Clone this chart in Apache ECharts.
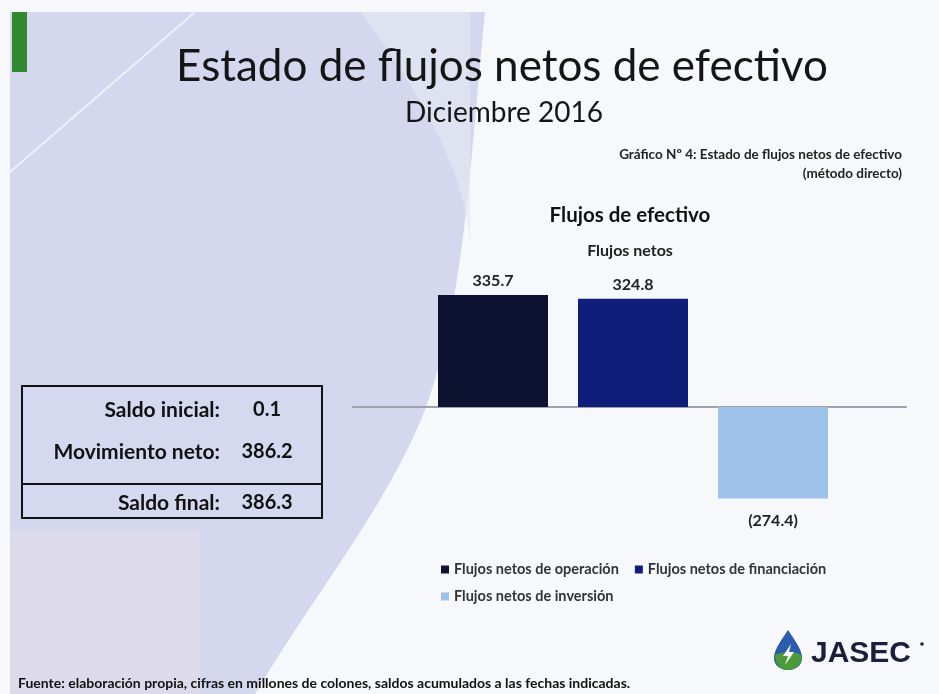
<!DOCTYPE html>
<html>
<head>
<meta charset="utf-8">
<script src="https://cdn.jsdelivr.net/npm/echarts@6/dist/echarts.min.js"></script>
<style>
  html, body { margin: 0; padding: 0; background: #f7f8fc; }
  #main { width: 939px; height: 694px; }
</style>
</head>
<body>
<div id="main"></div>
<script>
// datos del grafico (millones de colones)
var categorias = ['Flujos netos de operación', 'Flujos netos de financiación', 'Flujos netos de inversión'];
var valores = [335.7, 324.8, -274.4];
var colores = ['#0c1230', '#0f1e78', '#9fc2ea'];

// cuadro de saldos
var saldoEtiquetas = ['Saldo inicial:', 'Movimiento neto:', 'Saldo final:'];
var saldoValores = ['0.1', '386.2', '386.3'];

var FONT = 'Lato, "Open Sans", sans-serif';

var myChart = echarts.init(document.getElementById('main'));

function fmt(v) {
  return v < 0 ? '(' + Math.abs(v).toFixed(1) + ')' : v.toFixed(1);
}

// puntos de una curva bezier cubica (para las formas del fondo)
function curva(p0, p1, p2, p3) {
  var pts = [];
  for (var k = 0; k <= 20; k++) {
    var t = k / 20, u = 1 - t;
    pts.push([
      u * u * u * p0[0] + 3 * u * u * t * p1[0] + 3 * u * t * t * p2[0] + t * t * t * p3[0],
      u * u * u * p0[1] + 3 * u * u * t * p1[1] + 3 * u * t * t * p2[1] + t * t * t * p3[1]
    ]);
  }
  return pts;
}

var series = categorias.map(function (nombre, i) {
  var neg = valores[i] < 0;
  return {
    name: nombre,
    type: 'bar',
    barWidth: 110,
    barGap: '-100%',
    itemStyle: { color: colores[i] },
    label: {
      show: true,
      position: neg ? 'bottom' : 'top',
      distance: neg ? 14 : 6,
      fontFamily: FONT,
      fontSize: 16,
      fontWeight: 'bold',
      color: '#222',
      formatter: function (p) { return fmt(p.value[1]); }
    },
    data: [[i + 1, valores[i]]]
  };
});

// textos del cuadro
var cuadro = [];
var filasY = [410, 452, 503];
saldoEtiquetas.forEach(function (t, i) {
  cuadro.push({
    type: 'text', x: 220, y: filasY[i],
    style: { text: t, textAlign: 'right', textVerticalAlign: 'middle', font: 'bold 21px ' + FONT, fill: '#111' }
  });
  cuadro.push({
    type: 'text', x: 267, y: filasY[i],
    style: { text: saldoValores[i], textAlign: 'center', textVerticalAlign: 'middle', font: 'bold 20px ' + FONT, fill: '#111' }
  });
});

var fondo = [[10, 12], [485, 12]]
  .concat(curva([485, 12], [470, 160], [465, 300], [425, 410]))
  .concat(curva([425, 410], [385, 510], [310, 600], [255, 694]))
  .concat([[10, 694]]);
var fondo2 = [[10, 12], [360, 12]]
  .concat(curva([360, 12], [420, 90], [470, 180], [470, 250]))
  .concat([[470, 12]]);
var gota = curva([788, 630], [780, 642], [774, 650], [774, 658])
  .concat(curva([774, 658], [774, 666], [781, 670], [788, 670]))
  .concat(curva([788, 670], [795, 670], [802, 666], [802, 658]))
  .concat(curva([802, 658], [802, 650], [796, 642], [788, 630]));
var gotaVerde = curva([775, 655], [782, 652], [795, 650], [802, 656])
  .concat(curva([802, 656], [802, 665], [795, 670], [788, 670]))
  .concat(curva([788, 670], [781, 670], [775, 665], [775, 655]));

var legendText = { fontFamily: FONT, fontSize: 14.5, fontWeight: 'bold', color: '#333' };

myChart.setOption({
  animation: false,
  grid: { left: 353, width: 553, top: 273.6, height: 233.5 },
  xAxis: {
    type: 'value', min: 0, max: 3.95,
    axisLine: { show: true, onZero: true, lineStyle: { color: '#a0a0ae', width: 2 } },
    axisTick: { show: false }, axisLabel: { show: false }, splitLine: { show: false }
  },
  yAxis: {
    type: 'value', min: -300, max: 400, show: false, splitLine: { show: false }
  },
  legend: [{
    data: categorias.slice(0, 2),
    left: 436, top: 557,
    icon: 'rect', itemWidth: 8, itemHeight: 8, itemGap: 16,
    textStyle: legendText
  }, {
    data: categorias.slice(2),
    left: 436, top: 584,
    icon: 'rect', itemWidth: 8, itemHeight: 8,
    textStyle: legendText
  }],
  series: series,
  graphic: [
    // fondo de la diapositiva
    { type: 'polygon', z: -10, silent: true, shape: { points: fondo }, style: { fill: '#cfd3eb', opacity: 0.9 } },
    { type: 'polygon', z: -9, silent: true, shape: { points: fondo2 }, style: { fill: '#e4e8f4', opacity: 0.7 } },
    { type: 'rect', z: -8, silent: true, shape: { x: 10, y: 530, width: 190, height: 164 }, style: { fill: '#e2dde9', opacity: 0.6 } },
    { type: 'line', z: -7, silent: true, shape: { x1: 10, y1: 172, x2: 195, y2: 12 }, style: { stroke: '#eef0fa', lineWidth: 2 } },
    { type: 'rect', shape: { x: 12, y: 12, width: 15, height: 60 }, style: { fill: '#2f8a2f' } },

    // titulos
    {
      type: 'text', x: 502, y: 67,
      style: { text: 'Estado de flujos netos de efectivo', textAlign: 'center', textVerticalAlign: 'middle', font: '44px ' + FONT, fill: '#151515' }
    },
    {
      type: 'text', x: 504, y: 113,
      style: { text: 'Diciembre 2016', textAlign: 'center', textVerticalAlign: 'middle', font: '28px ' + FONT, fill: '#151515' }
    },
    {
      type: 'text', x: 902, y: 155,
      style: { text: 'Gráfico Nº 4: Estado de flujos netos de efectivo', textAlign: 'right', textVerticalAlign: 'middle', font: 'bold 13.5px ' + FONT, fill: '#222' }
    },
    {
      type: 'text', x: 902, y: 174,
      style: { text: '(método directo)', textAlign: 'right', textVerticalAlign: 'middle', font: 'bold 13.5px ' + FONT, fill: '#222' }
    },
    {
      type: 'text', x: 630, y: 215,
      style: { text: 'Flujos de efectivo', textAlign: 'center', textVerticalAlign: 'middle', font: 'bold 20.5px ' + FONT, fill: '#111' }
    },
    {
      type: 'text', x: 630, y: 251,
      style: { text: 'Flujos netos', textAlign: 'center', textVerticalAlign: 'middle', font: 'bold 16px ' + FONT, fill: '#222' }
    },

    // cuadro de saldos
    {
      type: 'rect', shape: { x: 22, y: 386, width: 300, height: 132 },
      style: { fill: 'rgba(214,219,240,0.6)', stroke: '#111', lineWidth: 2 }
    },
    { type: 'line', shape: { x1: 22, y1: 484, x2: 322, y2: 484 }, style: { stroke: '#111', lineWidth: 2 } }
  ].concat(cuadro).concat([
    // fuente
    {
      type: 'text', x: 18, y: 683,
      style: { text: 'Fuente: elaboración propia, cifras en millones de colones, saldos acumulados a las fechas indicadas.', textVerticalAlign: 'middle', font: 'bold 14px ' + FONT, fill: '#111' }
    },
    // logo JASEC
    { type: 'polygon', shape: { points: gota }, style: { fill: '#2b5cae' } },
    { type: 'polygon', shape: { points: gotaVerde }, style: { fill: '#4c9a3a' } },
    { type: 'polygon', shape: { points: [[791, 644], [783, 656], [788, 656], [785, 665], [794, 652], [789, 652]] }, style: { fill: '#ffffff' } },
    {
      type: 'text', x: 811, y: 654,
      style: { text: 'JASEC', textVerticalAlign: 'middle', font: 'bold 30px "Liberation Sans", Arial, sans-serif', fill: '#1b1f3b' }
    },
    { type: 'circle', shape: { cx: 922, cy: 644, r: 1.8 }, style: { fill: '#1b1f3b' } }
  ])
});
</script>
</body>
</html>
